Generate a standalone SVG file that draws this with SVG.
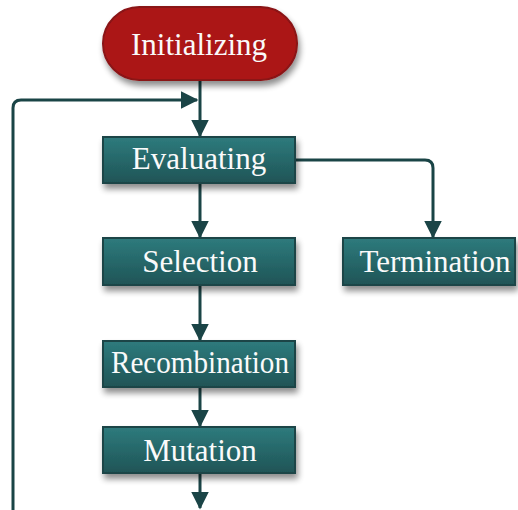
<svg xmlns="http://www.w3.org/2000/svg" width="518" height="510" viewBox="0 0 518 510">
<style>
.box{fill:url(#teal);stroke:#1a4446;stroke-width:2;filter:url(#sh)}
.start{fill:#ab1719;stroke:#8a1214;stroke-width:2;filter:url(#sh)}
.lbl{font-family:"Liberation Serif","Times New Roman",serif;font-size:31px;fill:#fafafa;text-anchor:middle}
.con{fill:none;stroke:#1a4446;stroke-width:3;marker-end:url(#ah)}
</style>
<defs>
<linearGradient id="teal" x1="0" y1="0" x2="0" y2="1">
<stop offset="0" stop-color="#2e7b7d"/>
<stop offset="1" stop-color="#1f5456"/>
</linearGradient>
<filter id="sh" x="-20%" y="-20%" width="140%" height="160%">
<feGaussianBlur in="SourceAlpha" stdDeviation="3"/>
<feOffset dx="2" dy="5" result="b"/>
<feComponentTransfer><feFuncA type="linear" slope="0.45"/></feComponentTransfer>
<feMerge><feMergeNode/><feMergeNode in="SourceGraphic"/></feMerge>
</filter>
<marker id="ah" markerWidth="6" markerHeight="6" refX="5.5" refY="3" orient="auto" markerUnits="strokeWidth">
<path d="M0,0 L6,3 L0,6 Z" fill="#1a4446"/>
</marker>
</defs>
<g id="connectors">
<path class="con" d="M200,80 L200,136"/>
<path class="con" d="M13,510 L13,108 Q13,100 21,100 L197,100"/>
<path class="con" d="M200,183 L200,237"/>
<path class="con" d="M295,160 L425,160 Q433,160 433,168 L433,237"/>
<path class="con" d="M200,285 L200,340"/>
<path class="con" d="M200,387 L200,426"/>
<path class="con" d="M200,473 L200,508"/>
</g>
<g id="initializing">
<rect class="start" x="103" y="7" width="194" height="73" rx="36.5"/>
<text class="lbl" x="199" y="55">Initializing</text>
</g>
<g id="evaluating">
<rect class="box" x="103" y="137" width="192" height="46"/>
<text class="lbl" x="199" y="169">Evaluating</text>
</g>
<g id="selection">
<rect class="box" x="103" y="238" width="192" height="47"/>
<text class="lbl" x="200" y="272">Selection</text>
</g>
<g id="termination">
<rect class="box" x="343" y="238" width="172" height="47"/>
<text class="lbl" x="435" y="272">Termination</text>
</g>
<g id="recombination">
<rect class="box" x="103" y="341" width="192" height="46"/>
<text class="lbl" x="200" y="373" textLength="178" lengthAdjust="spacingAndGlyphs">Recombination</text>
</g>
<g id="mutation">
<rect class="box" x="103" y="427" width="192" height="46"/>
<text class="lbl" x="200" y="461">Mutation</text>
</g>
</svg>
